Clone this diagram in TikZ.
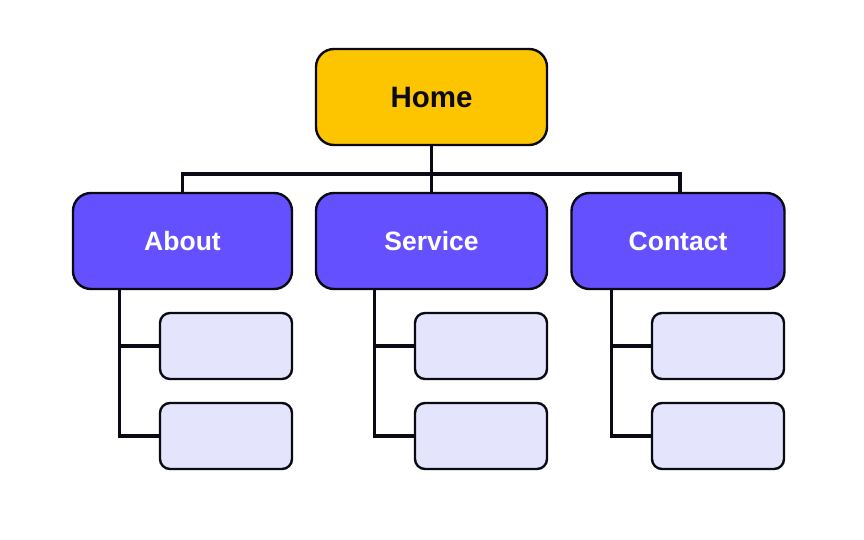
\documentclass[tikz,border=0pt]{standalone}
\usepackage{fontspec}
\setmainfont{Liberation Sans}
\usetikzlibrary{calc}
\definecolor{homeY}{HTML}{FDC500}
\definecolor{pageP}{HTML}{6550FF}
\definecolor{subL}{HTML}{E4E4FD}
\definecolor{inkD}{HTML}{0A0A14}
\begin{document}
\begin{tikzpicture}[x=1pt,y=-1pt,
  box/.style={draw=inkD,line width=2.4pt,rounded corners=18pt,inner sep=0pt},
  homebox/.style={box,fill=homeY,minimum width=231pt,minimum height=96pt,text=inkD,font=\bfseries\fontsize{29.5}{32}\selectfont},
  pagebox/.style={box,fill=pageP,minimum height=96pt,text=white,font=\bfseries\fontsize{26.5}{30}\selectfont},
  subbox/.style={draw=inkD,line width=2.4pt,rounded corners=10pt,fill=subL,minimum width=132pt,minimum height=66pt,inner sep=0pt},
  link/.style={draw=inkD,line width=3.2pt}]
\useasboundingbox[fill=white] (0,0) rectangle (864,540);
\coordinate (bus) at (0,174);
% connectors (drawn first, boxes on top)
\begin{scope}
\path (431.5,97) coordinate (hc) (431.5,241) coordinate (sc);
\end{scope}
\node[homebox] (home) at (431.5,97) {\raisebox{-1pt}{Home}};
\node[pagebox,minimum width=219pt] (about) at (182.5,241) {\raisebox{-1pt}{About}};
\node[pagebox,minimum width=231pt] (service) at (431.5,241) {\raisebox{-1pt}{Service}};
\node[pagebox,minimum width=213pt] (contact) at (678,241) {\raisebox{-1pt}{Contact}};
\node[subbox] (a1) at (226,346) {};
\node[subbox] (a2) at (226,436) {};
\node[subbox] (s1) at (481,346) {};
\node[subbox] (s2) at (481,436) {};
\node[subbox] (c1) at (718,346) {};
\node[subbox] (c2) at (718,436) {};
\draw[link] (home.south) -- (service.north);
\draw[link] (about.north) -- (about.north |- bus) -- ([xshift=2pt]contact.north |- bus) -- ([xshift=2pt]contact.north);
\foreach \p/\u/\d in {about/a1/a2,service/s1/s2,contact/c1/c2}{
  \coordinate (v\u) at ($(\u.west)+(-39,0)$);
  \draw[link] (v\u |- \p.south) -- (v\u |- \d.west) -- (\d.west);
  \draw[link] (v\u) -- (\u.west);
}
\end{tikzpicture}
\end{document}
